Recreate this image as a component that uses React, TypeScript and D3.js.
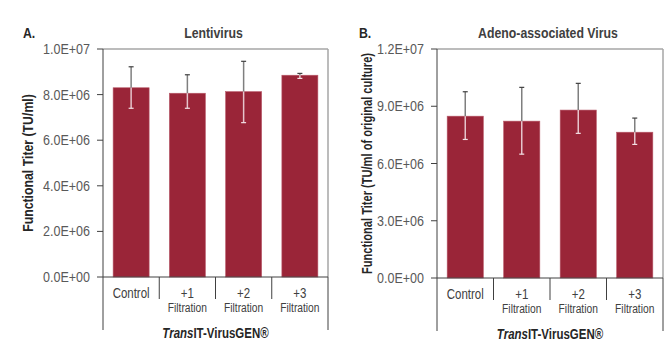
import * as d3 from 'd3';
import type { ReactNode } from 'react';

// categories (two text lines each)
const catLine1 = ['Control', '+1', '+2', '+3'];
const catLine2 = ['', 'Filtration', 'Filtration', 'Filtration'];
const groupLabelItalic = 'Trans';
const groupLabelRest = 'IT-VirusGEN®';

// A. Lentivirus
const lentiTitle = 'Lentivirus';
const lentiValues = [8.30e6, 8.06e6, 8.13e6, 8.85e6];
const lentiErrHigh = [9.22e6, 8.87e6, 9.46e6, 8.93e6];
const lentiErrLow = [7.40e6, 7.40e6, 6.77e6, 8.71e6];
const lentiTicks = [0, 2e6, 4e6, 6e6, 8e6, 1e7];

// B. Adeno-associated virus
const aavTitle = 'Adeno-associated Virus';
const aavValues = [8.48e6, 8.22e6, 8.80e6, 7.64e6];
const aavErrHigh = [9.76e6, 9.99e6, 10.2e6, 8.38e6];
const aavErrLow = [7.26e6, 6.49e6, 7.58e6, 7.0e6];
const aavTicks = [0, 3e6, 6e6, 9e6, 1.2e7];

const font = "'Liberation Sans', Arial, sans-serif";
const barColor = '#9a2538';

function sci(v: number) {
  const [m, e] = d3.format('.1e')(v).split('e');
  const sign = e[0] === '-' ? '-' : '+';
  const digits = e.replace(/[+-]/, '').padStart(2, '0');
  return m + 'E' + sign + digits;
}

// narrow text: horizontally squeezed Liberation Sans
const NText = (props: { x: number; y: number; size: number; sq?: number; anchor?: string; bold?: boolean; fill: string; rotate?: number; dy?: string; children: ReactNode }) => (
  <g transform={`translate(${props.x},${props.y}) rotate(${props.rotate || 0}) scale(${props.sq || 0.82},1)`}>
    <text textAnchor={props.anchor || 'middle'} dy={props.dy} fontFamily={font} fontSize={props.size}
      fontWeight={props.bold ? 'bold' : 'normal'} fill={props.fill}>{props.children}</text>
  </g>
);

type PanelProps = {
  letter: string;
  letterX: number;
  title: string;
  yTitle: string;
  yTitleX: number;
  yTitleSq: number;
  values: number[];
  errHigh: number[];
  errLow: number[];
  ticks: number[];
  left: number;
  right: number;
  top: number;
  bottom: number;
};

const Panel = (p: PanelProps) => {
  const y = d3.scaleLinear().domain([0, p.ticks[p.ticks.length - 1]]).range([p.bottom, p.top]);
  const x = d3.scaleBand<string>().domain(catLine1).range([p.left, p.right]).paddingInner(0.36).paddingOuter(0.18);
  const step = (p.right - p.left) / catLine1.length;
  const axisBottom = p.bottom + 53;
  const sepBottom = p.bottom + 22;
  const cx = (p.left + p.right) / 2;
  const bw = x.bandwidth();
  const cap = 2.5;

  return (
    <g>
      <NText x={p.letterX} y={38} size={15} anchor="start" bold fill="#262626">{p.letter}</NText>
      <NText x={cx - 2} y={38} size={15} bold fill="#404040">{p.title}</NText>
      <NText x={p.yTitleX} y={(p.top + p.bottom) / 2} rotate={-90} size={15} sq={p.yTitleSq} bold fill="#262626">{p.yTitle}</NText>

      {/* frame */}
      <line x1={p.left} x2={p.right} y1={p.top} y2={p.top} stroke="#a6a6a6" strokeWidth={1.5} />
      <line x1={p.right} x2={p.right} y1={p.top} y2={p.bottom} stroke="#a6a6a6" strokeWidth={1.5} />
      <line x1={p.right} x2={p.right} y1={p.bottom} y2={axisBottom} stroke="#404040" strokeWidth={1} />

      {/* bars */}
      {p.values.map((v, i) => (
        <rect key={'b' + i} x={x(catLine1[i])} y={y(v)} width={bw} height={y(0) - y(v)}
          fill={barColor} stroke="#b85868" strokeWidth={0.6} />
      ))}

      {/* error bars: part above the bar dark, part inside light */}
      {p.values.map((v, i) => {
        const bx = (x(catLine1[i]) as number) + bw / 2;
        const yh = y(p.errHigh[i]);
        const yl = y(p.errLow[i]);
        const yv = y(v);
        return (
          <g key={'e' + i}>
            <line x1={bx} x2={bx} y1={yh} y2={yv} stroke="#7f7f7f" strokeWidth={1.5} />
            <line x1={bx} x2={bx} y1={yv} y2={yl} stroke="#e6c4cb" strokeWidth={1.5} />
            <line x1={bx - cap} x2={bx + cap} y1={yh} y2={yh} stroke={yh < yv ? '#404040' : '#e6c4cb'} strokeWidth={1.2} />
            <line x1={bx - cap} x2={bx + cap} y1={yl} y2={yl} stroke={yl < yv ? '#404040' : '#f2e0e4'} strokeWidth={1.2} />
          </g>
        );
      })}

      {/* y axis */}
      <line x1={p.left} x2={p.left} y1={p.top} y2={axisBottom} stroke="#404040" strokeWidth={1} />
      {p.ticks.map((t) => (
        <g key={'t' + t}>
          <line x1={p.left - 6} x2={p.left} y1={y(t)} y2={y(t)} stroke="#404040" strokeWidth={1} />
          <text x={p.left - 60} y={y(t)} dy="0.36em" textLength={47} lengthAdjust="spacingAndGlyphs"
            fontFamily={font} fontSize={14} fill="#595959">{sci(t)}</text>
        </g>
      ))}

      {/* x axis */}
      <line x1={p.left} x2={p.right} y1={p.bottom} y2={p.bottom} stroke="#404040" strokeWidth={1} />
      {catLine1.slice(1).map((c, i) => (
        <line key={'s' + c} x1={p.left + step * (i + 1)} x2={p.left + step * (i + 1)} y1={p.bottom} y2={sepBottom} stroke="#404040" strokeWidth={1} />
      ))}
      {catLine1.map((c, i) => {
        const lx = (x(c) as number) + bw / 2;
        return (
          <g key={'c' + c}>
            <NText x={lx} y={p.bottom + 21} size={14} fill="#404040">{c}</NText>
            {catLine2[i] && <NText x={lx} y={p.bottom + 35} size={12.5} fill="#404040">{catLine2[i]}</NText>}
          </g>
        );
      })}
      <NText x={cx} y={p.bottom + 61} size={14} bold fill="#262626">
        <tspan fontStyle="italic">{groupLabelItalic}</tspan>{groupLabelRest}
      </NText>
    </g>
  );
};

const App = () => {
  return (
    <svg width={671} height={353} style={{ position: 'absolute', left: 0, top: 0, background: '#fff' }}>
      <rect width={671} height={353} fill="#fff" />
      <Panel letter="A." letterX={23} title={lentiTitle} yTitle="Functional Titer (TU/ml)" yTitleX={33} yTitleSq={0.82}
        values={lentiValues} errHigh={lentiErrHigh} errLow={lentiErrLow} ticks={lentiTicks}
        left={103} right={328} top={49} bottom={277} />
      <Panel letter="B." letterX={359} title={aavTitle} yTitle="Functional Titer (TU/ml of original culture)" yTitleX={372} yTitleSq={0.74}
        values={aavValues} errHigh={aavErrHigh} errLow={aavErrLow} ticks={aavTicks}
        left={437} right={663} top={49} bottom={278} />
    </svg>
  );
};

export default App;
